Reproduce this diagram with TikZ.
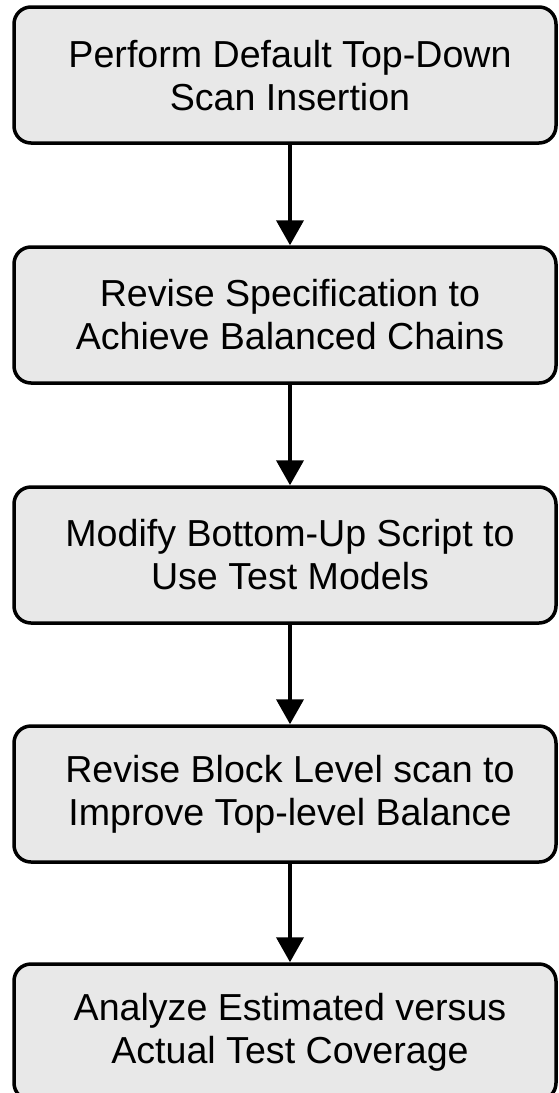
\documentclass[tikz,border=0pt]{standalone}
\usepackage{fontspec}
\setmainfont{Liberation Sans}
\usetikzlibrary{arrows.meta}
\definecolor{boxfill}{HTML}{E8E8E8}
\tikzset{
  stepbox/.style={draw=black, line width=3.5pt, fill=boxfill, rounded corners=17pt,
    minimum width=542pt, minimum height=136pt, inner sep=0pt},
  steptext/.style={align=center, font=\fontsize{37.6pt}{43pt}\selectfont, inner sep=0pt},
  flow/.style={line width=4pt, -{Triangle[width=27pt,length=25pt]}}
}
\begin{document}
\begin{tikzpicture}[x=1pt,y=1pt]
\useasboundingbox (0,0) rectangle (558,-1093);
\begin{scope}
\clip (0,0) rectangle (558,-1093);
\node[stepbox] (b1) at (285,-75) {};
\node[stepbox] (b2) at (285,-315) {};
\node[stepbox] (b3) at (285,-555) {};
\node[stepbox] (b4) at (285,-794) {};
\node[stepbox] (b5) at (285,-1032) {};
\end{scope}
\node[steptext] (t1) at (290,-76) {Perform Default Top-Down\\Scan Insertion};
\node[steptext] (t2) at (290,-315) {Revise Specification to\\Achieve Balanced Chains};
\node[steptext] (t3) at (290,-555) {Modify Bottom-Up Script to\\Use Test Models};
\node[steptext] (t4) at (290,-794) {Revise Block Level scan to\\Improve Top-level Balance};
\node[steptext] (t5) at (290,-1032) {Analyze Estimated versus\\Actual Test Coverage};
\draw[flow] (b1.south -| t1) -- (b2.north -| t2);
\draw[flow] (b2.south -| t2) -- (b3.north -| t3);
\draw[flow] (b3.south -| t3) -- (b4.north -| t4);
\draw[flow] (b4.south -| t4) -- (b5.north -| t5);
\end{tikzpicture}
\end{document}
